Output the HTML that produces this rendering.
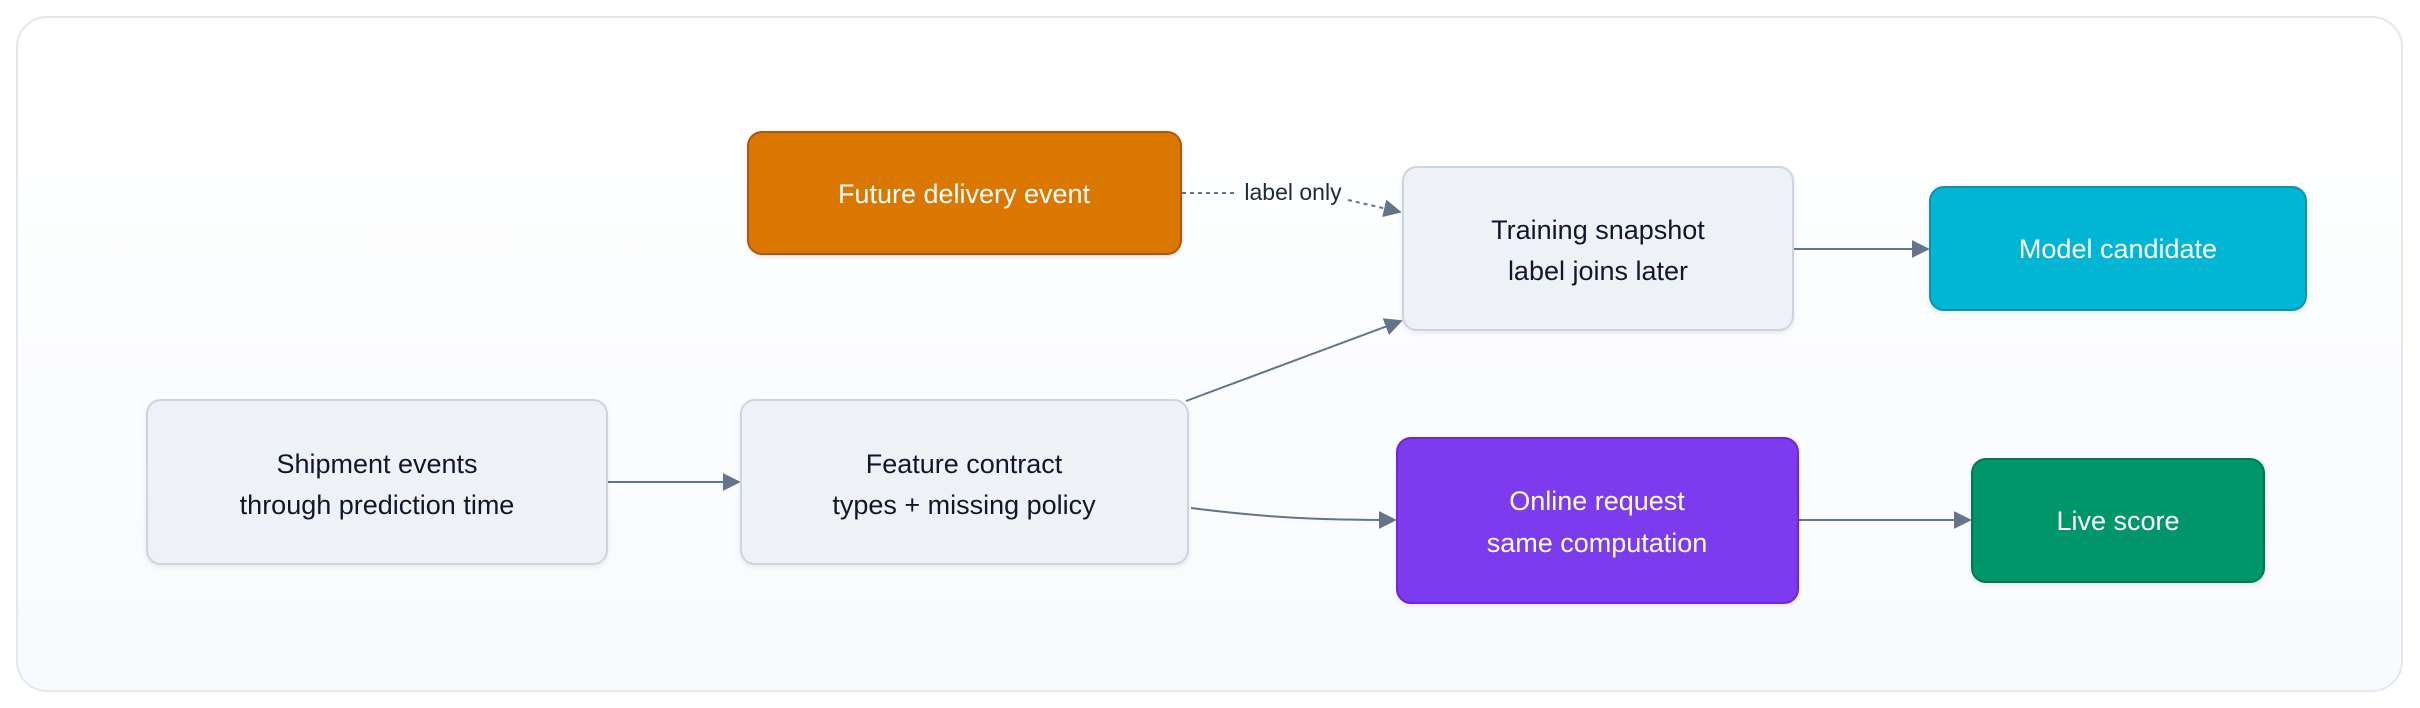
<!DOCTYPE html>
<html><head><meta charset="utf-8"><style>
html,body{margin:0;padding:0;width:2420px;height:708px;overflow:hidden;background:#fff}
svg text{font-family:"Liberation Sans",sans-serif}
</style></head><body>
<svg width="2420" height="708" viewBox="0 0 2420 708" xmlns="http://www.w3.org/2000/svg">
<defs>
<linearGradient id="bg" x1="0" y1="0" x2="0" y2="1"><stop offset="0" stop-color="#ffffff"/><stop offset="1" stop-color="#f8fafc"/></linearGradient>
<marker id="ar" viewBox="0 0 10 10" refX="9" refY="5" markerWidth="18" markerHeight="18" markerUnits="userSpaceOnUse" orient="auto"><path d="M0,0 L10,5 L0,10 z" fill="#64748b"/></marker>
<filter id="sh" x="-10%" y="-10%" width="120%" height="130%"><feDropShadow dx="0" dy="2" stdDeviation="2" flood-color="#0f172a" flood-opacity="0.08"/></filter>
</defs>
<rect x="17" y="17" width="2385" height="674" rx="30" fill="url(#bg)" stroke="#e2e8f0" stroke-width="2"/>
<g stroke="#64748b" stroke-width="2" fill="none">
<line x1="607" y1="482" x2="739" y2="482" marker-end="url(#ar)"/>
<line x1="1186" y1="401" x2="1401" y2="321" marker-end="url(#ar)"/>
<path d="M1191,508 C1270,518 1320,520 1395,520" marker-end="url(#ar)"/>
<line x1="1793" y1="249" x2="1928" y2="249" marker-end="url(#ar)"/>
<line x1="1798" y1="520" x2="1970" y2="520" marker-end="url(#ar)"/>
<path d="M1182,193 L1238,193" stroke-dasharray="4,4"/>
<path d="M1348,200 L1400,212" stroke-dasharray="4,4" marker-end="url(#ar)"/>
</g>
<text x="1293" y="200" font-size="23" fill="#1e293b" text-anchor="middle">label only</text>
<g filter="url(#sh)">
<rect x="748" y="132" width="433" height="122" rx="14" fill="#d97706" stroke="#b45309" stroke-width="2"/>
<rect x="147" y="400" width="460" height="164" rx="14" fill="#eef2f7" stroke="#cbd5e1" stroke-width="2"/>
<rect x="741" y="400" width="447" height="164" rx="14" fill="#eef2f7" stroke="#cbd5e1" stroke-width="2"/>
<rect x="1403" y="167" width="390" height="163" rx="14" fill="#eef2f7" stroke="#cbd5e1" stroke-width="2"/>
<rect x="1930" y="187" width="376" height="123" rx="14" fill="#06b6d4" stroke="#0891b2" stroke-width="2"/>
<rect x="1397" y="438" width="401" height="165" rx="14" fill="#7c3aed" stroke="#6d28d9" stroke-width="2"/>
<rect x="1972" y="459" width="292" height="123" rx="14" fill="#059669" stroke="#047857" stroke-width="2"/>
</g>
<g font-size="27" text-anchor="middle">
<text x="964" y="203" fill="#fff">Future delivery event</text>
<text x="377" y="473" fill="#0f172a">Shipment events</text>
<text x="377" y="514" fill="#0f172a">through prediction time</text>
<text x="964" y="473" fill="#0f172a">Feature contract</text>
<text x="964" y="514" fill="#0f172a">types + missing policy</text>
<text x="1598" y="239" fill="#0f172a">Training snapshot</text>
<text x="1598" y="280" fill="#0f172a">label joins later</text>
<text x="2118" y="258" fill="#fff">Model candidate</text>
<text x="1597" y="510" fill="#fff">Online request</text>
<text x="1597" y="552" fill="#fff">same computation</text>
<text x="2118" y="530" fill="#fff">Live score</text>
</g>
</svg>
</body></html>
